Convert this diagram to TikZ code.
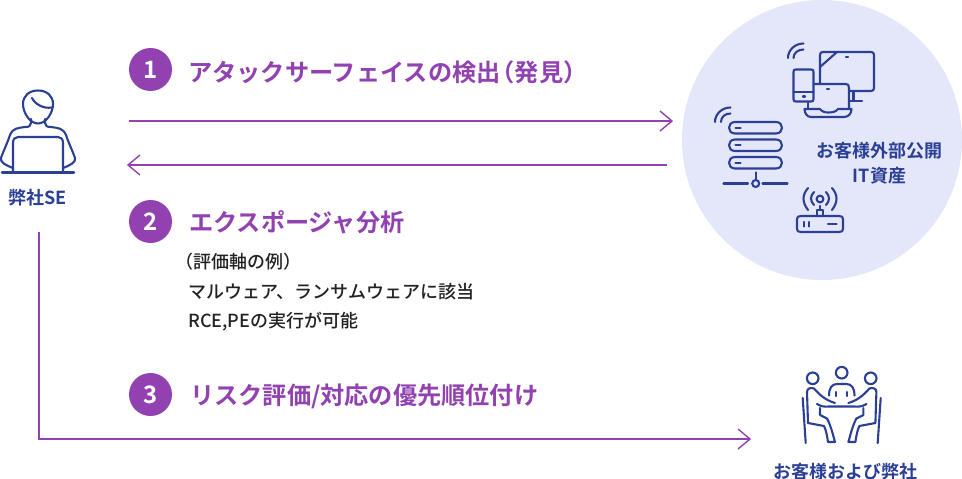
\documentclass[tikz,border=0pt]{standalone}
\usepackage{fontspec}
\setmainfont{Noto Sans CJK JP}[BoldFont={* Bold},UprightFont={* Medium}]
\definecolor{pur}{HTML}{9242B0}
\definecolor{nav}{HTML}{2B3F94}
\definecolor{bub}{HTML}{E4E7F9}
\definecolor{ink}{HTML}{222222}
\tikzset{
  flow/.style={draw=pur,line width=1.4pt},
  tip/.style={draw=pur,line width=1.4pt,line join=miter},
  badge/.style={circle,fill=pur,minimum size=43pt,inner sep=0pt,text=white,font=\fontsize{24}{24}\selectfont\bfseries},
  head/.style={anchor=west,inner sep=0pt,text=pur,font=\fontsize{24.2}{24}\selectfont\bfseries},
  capt/.style={inner sep=0pt,text=nav,font=\fontsize{18}{25}\selectfont\bfseries,align=center},
  note/.style={anchor=west,inner sep=0pt,text=ink,font=\fontsize{18}{18}\selectfont},
  ico/.style={draw=nav,line width=2.1pt,line cap=round,line join=round},
}
\begin{document}
\begin{tikzpicture}[x=1pt,y=-1pt]
\useasboundingbox (0,0) rectangle (962,479);
\fill[bub] (822,140) circle (140);
% flow
\coordinate (a1) at (129,121); \coordinate (a2) at (672,121);
\coordinate (b1) at (667,165); \coordinate (b2) at (128,165);
\coordinate (c1) at (39,232); \coordinate (c2) at (39,439); \coordinate (c3) at (750,439);
\draw[flow] (a1) -- (a2);
\draw[tip] (660,111) -- (a2) -- (660,131);
\draw[flow] (b1) -- (b2);
\draw[tip] (140,155) -- (b2) -- (140,175);
\draw[flow] (c1) -- (c2) -- (c3);
\draw[tip] (738,429) -- (c3) -- (738,449);
% badges
\node[badge] (n1) at (150.5,69.5) {1};
\node[badge] (n2) at (150.5,221.5) {2};
\node[badge] (n3) at (150.5,394.5) {3};
\node[head] (t1) at (188,72.5) {アタックサーフェイスの検出\kern-10pt（発見）};
\node[head] (t2) at (189,222.5) {エクスポージャ分析};
\node[head] (t3) at (190,396.5) {リスク評価/対応の優先順位付け};
\node[note] (m1) at (175,262) {（評価軸の例）};
\node[note] (m2) at (188,291.5) {マルウェア、ランサムウェアに該当};
\node[note] (m3) at (188,322) {RCE,PEの実行が可能};
% captions
\node[capt] (se) at (37.5,197.5) {弊社SE};
\node[capt] (it) at (879.5,163.5) {お客様外部公開\\IT資産};
\node[capt] (cu) at (845,471.5) {お客様および弊社};
% person
\begin{scope}[ico]
\draw (38,90.5) .. controls (47,90.5) and (53,96) .. (53,104) .. controls (53,113) and (46,123.5) .. (38,123.5) .. controls (30,123.5) and (23,113) .. (23,104) .. controls (23,96) and (29,90.5) .. (38,90.5);
\draw (32,98) .. controls (35,104) and (43,109) .. (52,107.5);
\draw (31,119) -- (31,123) .. controls (31,126) and (29,127) .. (25,127) .. controls (18,128) and (13,128) .. (10,135) .. controls (7,144) and (3,152) .. (1,158) .. controls (0,162) and (5,165) .. (13,168);
\draw (45,119) -- (45,123) .. controls (45,126) and (47,127) .. (51,127) .. controls (58,128) and (63,128) .. (66,135) .. controls (69,144) and (73,152) .. (75,158) .. controls (76,162) and (71,165) .. (63,168);
\draw (13,171) -- (13,143) .. controls (13,139) and (15,137) .. (18,137) -- (58,137) .. controls (61,137) and (63,139) .. (63,143) -- (63,171);
\draw[line width=2.4pt] (2,172.5) -- (74,172.5);
\end{scope}
% devices
\begin{scope}[ico]
\draw (820,83) -- (820,55) .. controls (820,53) and (821,52) .. (823,52) -- (871,52) .. controls (873,52) and (874,53) .. (874,55) -- (874,88) .. controls (874,90) and (873,91) .. (871,91) -- (850,91);
\draw (820,67) -- (837,52);
\draw[line width=2.4pt] (846,57) -- (848,57);
\draw (853.5,91) -- (853.5,101); \draw (849,101) -- (862,101);
\draw (796,69.5) -- (811,69.5) .. controls (813,69.5) and (813.5,70) .. (813.5,72) -- (813.5,99) .. controls (813.5,101) and (813,101.5) .. (811,101.5) -- (796,101.5) .. controls (794,101.5) and (793.5,101) .. (793.5,99) -- (793.5,72) .. controls (793.5,70) and (794,69.5) .. (796,69.5) -- cycle;
\draw (793.5,92) -- (813.5,92);
\draw[line width=2.4pt] (803,96.5) -- (805,96.5);
\draw (814,84) -- (846,84) .. controls (848,84) and (849,85) .. (849,88) -- (849,108);
\draw (808,103) -- (808,108);
\draw[line width=2.4pt] (827,89) -- (829,89);
\draw (804.5,109) -- (820,109) .. controls (822,112) and (826,112.5) .. (828,112.5) .. controls (832,112.5) and (836,112) .. (838,109) -- (851.5,109) .. controls (851.5,113) and (849,117) .. (844,117) -- (811,117) .. controls (807,117) and (804.5,113) .. (804.5,109) -- cycle;
\draw (788,58) .. controls (788,50) and (795,43.5) .. (803.5,43.5);
\draw (793.5,58) .. controls (793.5,53) and (798,49.5) .. (803.5,49.5);
% server
\foreach \yy in {122,139.5,157}{
  \draw (735,\yy) -- (776,\yy) .. controls (784,\yy) and (784,{\yy+11.5}) .. (776,{\yy+11.5}) -- (735,{\yy+11.5}) .. controls (727,{\yy+11.5}) and (727,\yy) .. (735,\yy) -- cycle;
  \draw (735.5,{\yy+5.7}) -- (740.5,{\yy+5.7});
}
\draw (755.7,172.5) -- (755.7,179.5);
\draw (755.7,183.5) circle (3.5);
\draw (723.5,183.5) -- (748,183.5); \draw (762.5,183.5) -- (787.5,183.5);
\draw (715,122) .. controls (715,114) and (722,107.5) .. (730.5,107.5);
\draw (721,122) .. controls (721,117) and (725,113.5) .. (730.5,113.5);
% router
\draw (801,216) -- (839,216) .. controls (842,216) and (843,217) .. (843,219) -- (843,229) .. controls (843,231) and (842,232) .. (839,232) -- (801,232) .. controls (798,232) and (797,231) .. (797,229) -- (797,219) .. controls (797,217) and (798,216) .. (801,216) -- cycle;
\draw (804,222) -- (804,226.5); \draw (809,222) -- (809,226.5); \draw (828,224) -- (836.5,224);
\draw (817,216) -- (817,210) -- (823,210) -- (823,216);
\draw (820,206) -- (820,210);
\draw (820,199) circle (3.4);
\draw (814,205) .. controls (810,201) and (810,196) .. (814,192);
\draw (826,205) .. controls (830,201) and (830,196) .. (826,192);
\draw (808,210) .. controls (802,202) and (802,195) .. (808,188);
\draw (832,210) .. controls (838,202) and (838,195) .. (832,188);
% meeting
\draw (812.7,378.3) circle (5.8);
\draw (841.7,372.7) circle (5.8);
\draw (870.7,378.3) circle (5.8);
\draw (829,395.5) .. controls (829,388) and (832,384) .. (837,384) -- (846.5,384) .. controls (851.5,384) and (854.5,388) .. (854.5,395.5);
\draw (836,392) -- (836,396); \draw (847.3,392) -- (847.3,396);
% left person
\draw (808,423) -- (807,392) .. controls (807,388) and (811,387.5) .. (814,388.5) .. controls (820,395) and (825,400) .. (835,403);
\draw (817,404) .. controls (821,406.5) and (825,407) .. (829,406.5) -- (854.5,406.5) .. controls (858.5,407) and (862.5,406.5) .. (866.5,404);
\draw (820,408) -- (820,415) -- (827,418.5) .. controls (831,426) and (833,435) .. (835,442) -- (828,442) .. controls (827,435) and (826,430) .. (824,426) -- (808,423);
\draw (802.7,398) -- (805.7,443);
% right person
\draw (875.4,423) -- (876.4,392) .. controls (876.4,388) and (872.4,387.5) .. (869.4,388.5) .. controls (863.4,395) and (858.4,400) .. (848.4,403);
\draw (863.4,408) -- (863.4,415) -- (856.4,418.5) .. controls (852.4,426) and (850.4,435) .. (848.4,442) -- (855.4,442) .. controls (856.4,435) and (857.4,430) .. (859.4,426) -- (875.4,423);
\draw (880.7,398) -- (877.7,443);
\end{scope}
\end{tikzpicture}
\end{document}
